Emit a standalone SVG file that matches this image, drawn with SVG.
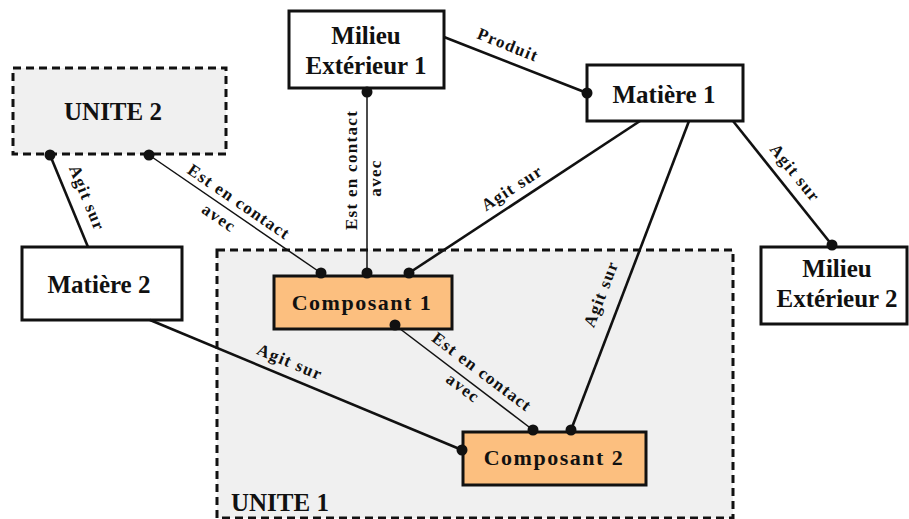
<svg xmlns="http://www.w3.org/2000/svg" width="909" height="519" viewBox="0 0 909 519">
<style>
.box{fill:#ffffff;stroke:#111;stroke-width:3}
.comp{fill:#fcbf7f;stroke:#111;stroke-width:3}
.unit{fill:#f0f0f0;stroke:#111;stroke-width:3;stroke-dasharray:8 5}
.nl{font-family:"Liberation Serif","Times New Roman",serif;font-weight:bold;font-size:25px;fill:#111;text-anchor:middle}
.cl{font-family:"Liberation Serif","Times New Roman",serif;font-weight:bold;font-size:22px;fill:#111;text-anchor:middle;letter-spacing:1.5px}
.ul{font-family:"Liberation Serif","Times New Roman",serif;font-weight:bold;font-size:25px;fill:#111}
.el{font-family:"Liberation Serif","Times New Roman",serif;font-weight:bold;font-size:17px;fill:#111;text-anchor:middle;dominant-baseline:central;letter-spacing:1.3px}
.thick{stroke:#111;stroke-width:2.6;fill:none}
.thin{stroke:#111;stroke-width:1.5;fill:none}
.dot{fill:#111}
</style>
<rect width="909" height="519" fill="#ffffff"/>
<g id="unite1">
<rect class="unit" x="217" y="250" width="516" height="268"/>
<text class="ul" x="231" y="511">UNITE 1</text>
</g>
<g id="unite2">
<rect class="unit" x="13" y="68" width="213" height="86"/>
<text class="nl" x="113" y="120">UNITE 2</text>
</g>
<g id="milieu1">
<rect class="box" x="289" y="11" width="155" height="77"/>
<text class="nl" x="366" y="44">Milieu</text>
<text class="nl" x="366" y="74">Extérieur 1</text>
</g>
<g id="matiere1">
<rect class="box" x="587" y="65" width="156" height="56"/>
<text class="nl" x="664" y="103">Matière 1</text>
</g>
<g id="matiere2">
<rect class="box" x="22" y="247" width="160" height="73"/>
<text class="nl" x="99" y="293">Matière 2</text>
</g>
<g id="milieu2">
<rect class="box" x="761" y="247" width="146" height="77"/>
<text class="nl" x="837" y="277">Milieu</text>
<text class="nl" x="837" y="307">Extérieur 2</text>
</g>
<g id="composant1">
<rect class="comp" x="274" y="276" width="178" height="53"/>
<text class="cl" x="362" y="310">Composant 1</text>
</g>
<g id="composant2">
<rect class="comp" x="463" y="432" width="183" height="53"/>
<text class="cl" x="554" y="465">Composant 2</text>
</g>
<g id="connectors">
<line class="thick" x1="50" y1="155" x2="88" y2="247"/>
<line class="thin" x1="149" y1="155" x2="321" y2="273"/>
<line class="thin" x1="367" y1="92" x2="367" y2="273"/>
<line class="thick" x1="444" y1="37" x2="587" y2="93"/>
<line class="thick" x1="640" y1="121" x2="409" y2="273"/>
<line class="thick" x1="689" y1="121" x2="571" y2="430"/>
<line class="thick" x1="733" y1="121" x2="832" y2="245"/>
<line class="thick" x1="150" y1="320" x2="462" y2="450"/>
<line class="thin" x1="395" y1="325" x2="533" y2="430"/>
<circle class="dot" cx="50" cy="155" r="5.5"/>
<circle class="dot" cx="149" cy="155" r="5.5"/>
<circle class="dot" cx="367" cy="92" r="5.5"/>
<circle class="dot" cx="321" cy="273" r="5.5"/>
<circle class="dot" cx="367" cy="273" r="5.5"/>
<circle class="dot" cx="409" cy="273" r="5.5"/>
<circle class="dot" cx="587" cy="93" r="5.5"/>
<circle class="dot" cx="832" cy="245" r="5.5"/>
<circle class="dot" cx="395" cy="325" r="5.5"/>
<circle class="dot" cx="533" cy="430" r="5.5"/>
<circle class="dot" cx="571" cy="430" r="5.5"/>
<circle class="dot" cx="462" cy="450" r="5.5"/>
<text class="el" transform="translate(87,198) rotate(67.6)">Agit sur</text>
<text class="el" transform="translate(239,202) rotate(34.5)">Est en contact</text>
<text class="el" transform="translate(219,218) rotate(34.5)">avec</text>
<text class="el" transform="translate(351,170) rotate(-90)">Est en contact</text>
<text class="el" transform="translate(375,178) rotate(-90)">avec</text>
<text class="el" transform="translate(508,45) rotate(22)">Produit</text>
<text class="el" transform="translate(512,188) rotate(-33)">Agit sur</text>
<text class="el" transform="translate(601,294) rotate(-69)">Agit sur</text>
<text class="el" transform="translate(795,173) rotate(51)">Agit sur</text>
<text class="el" transform="translate(290,362) rotate(22.6)">Agit sur</text>
<text class="el" transform="translate(482,372) rotate(37)">Est en contact</text>
<text class="el" transform="translate(463,388) rotate(37)">avec</text>
</g>
</svg>
